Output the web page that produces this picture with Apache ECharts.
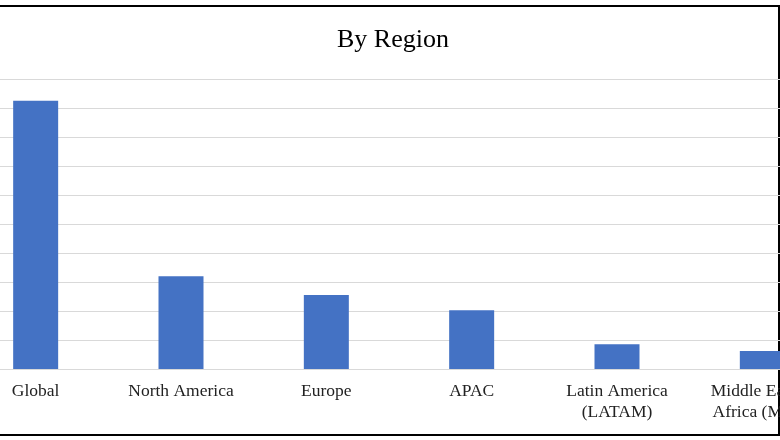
<!DOCTYPE html>
<html><head><meta charset="utf-8">
<script src="https://cdn.jsdelivr.net/npm/echarts@6/dist/echarts.min.js"></script>
<style>html,body{margin:0;padding:0;background:#fff;overflow:hidden;width:780px;height:440px}#c{position:absolute;left:-37px;top:0;width:872px;height:440px}</style>
</head><body><div id="c"></div>
<script>
const categories = ['Global','North America','Europe','APAC','Latin America\n(LATAM)','Middle East &\nAfrica (MEA)'];
const values = [9.25, 3.2, 2.55, 2.03, 0.85, 0.62];
const chart = echarts.init(document.getElementById('c'));
chart.setOption({
  animation:false,
  title:{text:'By Region',left:425,top:22,textAlign:'center',textStyle:{fontFamily:'Liberation Serif',fontSize:26,fontWeight:'normal',color:'#000'}},
  grid:{left:0,right:0,top:79,bottom:71,containLabel:false},
  xAxis:{type:'category',data:categories,axisTick:{show:false},axisLine:{lineStyle:{color:'#d9d9d9'}},
    axisLabel:{fontFamily:'Liberation Serif',fontSize:17.5,color:'#222',margin:12,lineHeight:21,interval:0}},
  yAxis:{type:'value',min:0,max:10,interval:1,axisLabel:{show:false},splitLine:{lineStyle:{color:'#d9d9d9',width:1}}},
  series:[{type:'bar',data:values,barWidth:45,itemStyle:{color:'#4472C4'}}],
  graphic:[
    {type:'line',shape:{x1:37,y1:6,x2:817,y2:6},style:{stroke:'#000',lineWidth:2}},
    {type:'line',shape:{x1:37,y1:435,x2:817,y2:435},style:{stroke:'#000',lineWidth:2}},
    {type:'line',shape:{x1:816,y1:6,x2:816,y2:435},style:{stroke:'#000',lineWidth:2}}
  ]
});
</script></body></html>
